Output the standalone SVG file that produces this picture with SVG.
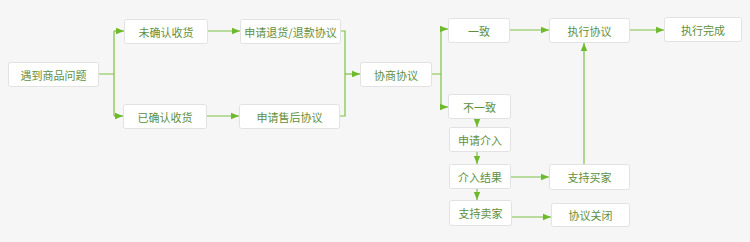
<svg xmlns="http://www.w3.org/2000/svg" width="750" height="242" viewBox="0 0 750 242">
<defs>
<marker id="arr" viewBox="0 0 8 8" refX="8" refY="4" markerWidth="8" markerHeight="8" markerUnits="userSpaceOnUse" orient="auto">
<path d="M0,0.8 L8,4 L0,7.2 Z" fill="#6fba2c"/>
</marker>
<style>
.bg{fill:#f6f6f6}
.n rect{fill:#ffffff;stroke:#e2e2e2;stroke-width:1}
.n text{font-family:"Noto Sans CJK SC","Noto Sans CJK JP",sans-serif;font-size:11px;fill:#5f8f3e;text-anchor:middle;dominant-baseline:central}
.c path{fill:none;stroke:#7cc242;stroke-width:1.2}
.c .a{marker-end:url(#arr)}
</style>
</defs>
<rect class="bg" x="0" y="0" width="750" height="242"/>
<g class="c">
<path d="M98,74 H114 M114,31 V116"/>
<path class="a" d="M114,31 H124"/>
<path class="a" d="M114,116 H123"/>
<path class="a" d="M207,31 H240"/>
<path class="a" d="M206,116 H239"/>
<path d="M340,31 H345 V116 H339"/>
<path class="a" d="M345,74 H360"/>
<path d="M431,74 H441 M441,29 V107"/>
<path class="a" d="M441,29 H448"/>
<path class="a" d="M441,107 H448"/>
<path class="a" d="M509,30 H549"/>
<path class="a" d="M629,30 H664"/>
<path class="a" d="M477,118 V127"/>
<path class="a" d="M477,151 V164"/>
<path class="a" d="M477,188 V200"/>
<path class="a" d="M510,177 H549"/>
<path class="a" d="M511,217 H551"/>
<path class="a" d="M584,164 V43"/>
</g>
<g id="n1" class="n"><rect x="8.5" y="62.5" width="90" height="24" rx="2"/><text x="53.5" y="74.5">遇到商品问题</text></g>
<g id="n2" class="n"><rect x="124.5" y="19.5" width="83" height="24" rx="2"/><text x="166" y="31.5">未确认收货</text></g>
<g id="n3" class="n"><rect x="123.5" y="104.5" width="83" height="24" rx="2"/><text x="165" y="116.5">已确认收货</text></g>
<g id="n4" class="n"><rect x="240.5" y="19.5" width="100" height="24" rx="2"/><text x="290.5" y="31.5">申请退货/退款协议</text></g>
<g id="n5" class="n"><rect x="239.5" y="104.5" width="100" height="24" rx="2"/><text x="289.5" y="116.5">申请售后协议</text></g>
<g id="n6" class="n"><rect x="360.5" y="62.5" width="71" height="24" rx="2"/><text x="396" y="74.5">协商协议</text></g>
<g id="n7" class="n"><rect x="448.5" y="18.5" width="61" height="24" rx="2"/><text x="479" y="30.5">一致</text></g>
<g id="n8" class="n"><rect x="549.5" y="18.5" width="80" height="24" rx="2"/><text x="589.5" y="30.5">执行协议</text></g>
<g id="n9" class="n"><rect x="664.5" y="17.5" width="77" height="24" rx="2"/><text x="703" y="29.5">执行完成</text></g>
<g id="n10" class="n"><rect x="448.5" y="94.5" width="62" height="24" rx="2"/><text x="479.5" y="106.5">不一致</text></g>
<g id="n11" class="n"><rect x="449.5" y="127.5" width="61" height="24" rx="2"/><text x="480" y="139.5">申请介入</text></g>
<g id="n12" class="n"><rect x="449.5" y="164.5" width="61" height="24" rx="2"/><text x="480" y="176.5">介入结果</text></g>
<g id="n13" class="n"><rect x="449.5" y="200.5" width="62" height="25" rx="2"/><text x="480.5" y="213">支持卖家</text></g>
<g id="n14" class="n"><rect x="549.5" y="164.5" width="80" height="25" rx="2"/><text x="589.5" y="177">支持买家</text></g>
<g id="n15" class="n"><rect x="551.5" y="203.5" width="78" height="23" rx="2"/><text x="590.5" y="215">协议关闭</text></g>
</svg>
